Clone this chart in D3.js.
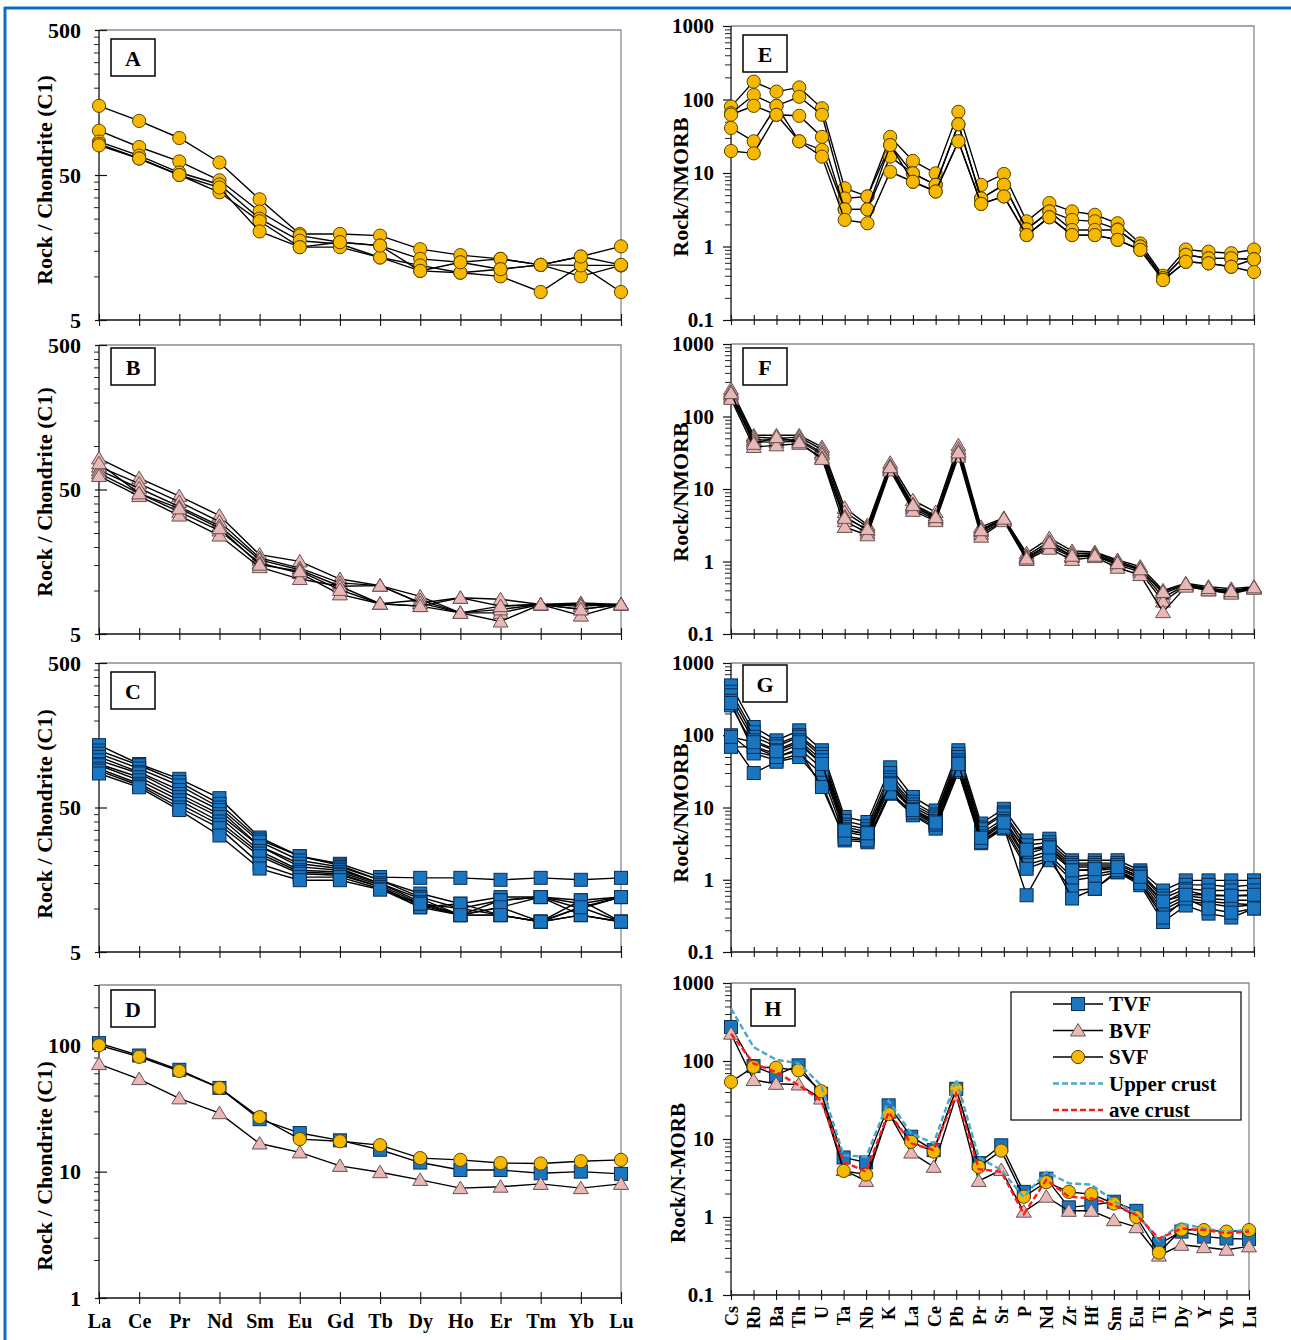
<!DOCTYPE html>
<html><head><meta charset="utf-8">
<script src="https://cdnjs.cloudflare.com/ajax/libs/d3/7.8.5/d3.min.js"></script>
<style>body{margin:0;background:#fff}svg{display:block}</style>
</head><body><svg id="c" width="1291" height="1340"></svg>
<script>
// ---------------- DATA ----------------
const reeElements = ["La","Ce","Pr","Nd","Sm","Eu","Gd","Tb","Dy","Ho","Er","Tm","Yb","Lu"];
const spiderElements = ["Cs","Rb","Ba","Th","U","Ta","Nb","K","La","Ce","Pb","Pr","Sr","P","Nd","Zr","Hf","Sm","Eu","Ti","Dy","Y","Yb","Lu"];
const reeTicks = [5, 50, 500];
const reeAvgTicks = [1, 10, 100];
const spiderTicks = [0.1, 1, 10, 100, 1000];

// A: SVF chondrite-normalised
const svfREE = [
  [150,118,90,61,34,19.6,19.6,19.1,15.4,14.0,13.2,12.0,13.7,16.1],
  [101,78,62,46,28,19.1,17.2,16.3,13.2,12.5,13.2,12.0,11.9,11.9],
  [85,68,52,43,25,17.6,16.7,13.5,11.9,10.6,11.2,12.0,10.0,11.9],
  [82,65,50,38,24,15.9,15.9,13.5,10.9,10.6,10.0,7.8,11.9,7.8],
  [80,65,50,41,20.4,15.9,17.2,16.3,10.9,12.5,11.2,12.0,13.7,12.0]
];
// B: BVF
const bvfREE = [
  [82,60,45,33,17.7,15.9,12.0,10.8,9.1,7.0,7.8,8.0,8.2,8.0],
  [72,55,41,30,16.8,14.3,11.3,10.8,8.2,8.9,8.7,8.0,8.0,8.0],
  [68,51,38,28,16.3,13.9,10.7,8.1,7.8,7.0,7.0,8.0,7.4,8.0],
  [65,47,35,26,15.5,13.2,9.4,8.1,8.6,7.0,6.1,8.0,6.7,8.0],
  [62,45,33,24,14.5,12.0,10.7,10.8,8.2,7.0,7.4,8.0,7.8,8.0],
  [76,47,37,27,15.1,13.6,10.1,8.1,7.8,8.9,7.8,8.0,7.4,8.0]
];
// C: TVF
const tvfREE = [
  [135,100,79,58,31,23,20.4,16.5,16.3,16.3,15.8,16.3,15.8,16.3],
  [124,98,75,53,30,23,19.9,15.7,12.7,10.8,12.0,12.0,10.8,12.0],
  [118,93,71,50,29,21.5,19.4,15.7,12.0,10.0,11.4,12.0,10.0,12.0],
  [112,88,66,48,27,20.4,18.9,14.9,11.7,9.0,10.2,8.1,11.4,8.1],
  [106,86,62,45,27,19.4,18.4,14.9,11.1,9.0,9.0,8.1,9.0,8.1],
  [100,81,59,43,25,18.4,17.9,14.5,10.8,10.0,9.0,8.1,10.2,12.0],
  [98,77,56,40,24,17.9,17.4,14.1,10.5,9.0,11.4,12.0,9.0,8.1],
  [93,73,53,38,23,17.4,17.0,14.1,10.2,10.8,9.0,8.1,9.0,8.1],
  [90,71,50,36,20.4,16.5,16.5,13.7,10.2,9.0,10.2,12.0,11.4,12.0],
  [86,69,48,32,18.9,15.7,15.7,13.5,10.8,9.0,9.0,8.1,10.2,8.1]
];
// D: averages
const tvfREEavg = [104,83,64,46,26,20.2,17.7,14.9,11.8,10.3,10.3,9.7,10.0,9.6];
const bvfREEavg = [71,54,38,29,16.7,14.2,11.1,9.9,8.6,7.4,7.6,8.0,7.4,8.0];
const svfREEavg = [100,81,62.6,46,27,18.1,17.4,16.2,12.8,12.4,11.7,11.6,12.1,12.4];

// E: SVF N-MORB normalised
const svfSpider = [
  [80,175,128,146,76,6.2,4.8,31,14.6,9.9,68,6.9,9.7,2.2,3.9,3.0,2.7,2.07,1.10,0.40,0.91,0.85,0.81,0.91],
  [65,115,82,109,62,4.5,4.8,24,9.9,6.9,46,4.5,6.9,1.71,3.0,2.3,2.2,1.71,1.0,0.37,0.77,0.69,0.69,0.67],
  [62,82,62,60,31,3.2,3.2,16.7,9.9,6.9,46,4.5,6.9,1.71,3.0,1.68,1.68,1.68,1.0,0.37,0.77,0.69,0.69,0.67],
  [41,27,82,27,20.6,3.2,3.2,24,7.6,5.6,27,3.8,4.8,1.43,2.5,1.43,1.43,1.23,0.90,0.35,0.62,0.59,0.53,0.45],
  [19.9,18.5,62,27,16.7,2.3,2.07,10.4,7.6,5.6,27,3.8,4.8,1.43,2.5,1.43,1.43,1.23,0.90,0.35,0.62,0.59,0.53,0.67]
];
// F: BVF
const bvfSpider = [
  [240,55,55,55,38,5.5,3.2,23,7.0,4.8,40,3.0,4.0,1.3,2.1,1.4,1.35,1.05,0.85,0.40,0.50,0.45,0.42,0.45],
  [220,52,50,52,35,4.8,3.0,21,6.2,4.3,36,2.8,3.9,1.2,1.9,1.3,1.3,1.0,0.80,0.36,0.48,0.42,0.40,0.44],
  [200,48,47,48,32,4.2,2.7,20,5.7,4.0,33,2.6,3.8,1.15,1.7,1.2,1.25,0.95,0.76,0.32,0.47,0.41,0.38,0.43],
  [185,45,44,46,30,3.6,2.5,19,5.4,3.8,30,2.4,3.7,1.1,1.6,1.15,1.2,0.90,0.72,0.28,0.46,0.40,0.37,0.43],
  [175,38,40,42,27,3.0,2.3,18,5.0,3.6,28,2.2,3.6,1.05,1.5,1.05,1.15,0.82,0.65,0.20,0.45,0.40,0.36,0.42],
  [210,42,52,44,26,4.0,2.8,20,6.0,4.1,32,2.7,3.9,1.1,1.8,1.2,1.2,0.95,0.78,0.38,0.49,0.43,0.39,0.44]
];
// G: TVF
const tvfSpider = [
  [490,130,85,117,62,7.4,6.3,36,14,9.1,62,6.0,9.6,3.5,3.7,1.86,1.86,1.86,1.35,0.71,0.98,0.98,0.98,0.98],
  [400,110,75,100,55,6.5,5.5,30,12,8.0,55,5.3,8.5,3.0,3.3,1.7,1.7,1.7,1.25,0.6,0.85,0.85,0.8,0.85],
  [357,95,70,95,50,5.8,5.0,26,11,7.5,50,5.0,8.0,2.6,3.0,1.6,1.6,1.6,1.2,0.55,0.75,0.71,0.71,0.71],
  [300,85,62,85,45,5.4,4.6,24,10.2,7.0,45,4.4,7.0,2.3,2.8,1.5,1.5,1.5,1.1,0.47,0.71,0.6,0.6,0.6],
  [259,70,55,75,40,5.0,4.2,22,9.5,6.5,42,4.0,6.5,2.0,2.5,1.35,1.35,1.42,1.04,0.42,0.6,0.55,0.52,0.52],
  [280,60,50,65,35,4.6,4.0,19.2,9.0,6.0,38,3.6,6.0,1.86,2.2,1.09,1.2,1.35,0.95,0.38,0.55,0.5,0.47,0.45],
  [100,56,45,55,29,4.0,3.6,17,8.0,5.5,35,3.4,5.5,1.6,2.0,0.98,1.09,1.27,0.9,0.34,0.5,0.47,0.42,0.45],
  [85,30,43,50,22,3.5,3.3,15.5,7.8,5.1,31,3.2,5.1,1.42,1.86,0.71,0.75,1.27,0.84,0.26,0.44,0.34,0.30,0.40],
  [69,69,50,62,19.2,3.7,3.5,16,8.5,5.8,33,3.3,5.3,0.61,2.2,0.55,0.75,1.35,0.9,0.3,0.55,0.4,0.35,0.4],
  [95,80,60,80,40,4.8,4.4,21,9.2,6.2,40,3.8,6.2,2.6,2.8,1.35,1.4,1.5,1.1,0.5,0.62,0.62,0.6,0.62]
];
// H: averages and crust references
const tvfSpiderAvg = [273,86,66,88,38,5.8,5.0,27,10.7,7.2,44,4.9,8.3,2.1,3.1,1.33,1.42,1.57,1.20,0.45,0.65,0.56,0.53,0.52];
const bvfSpiderAvg = [224,57,51,50,33,4.0,2.9,21.6,6.7,4.4,36,2.9,4.0,1.17,1.82,1.20,1.20,0.91,0.74,0.32,0.44,0.41,0.38,0.42];
const svfSpiderAvg = [54,84,82,76,41,3.9,3.5,20.8,9.2,6.9,44,4.4,7.1,1.82,2.8,2.1,1.96,1.49,1.0,0.35,0.69,0.68,0.65,0.68];
const upperCrust = [469,151,104,93,49,6.2,5.9,31,11.8,8.8,58,5.8,4.0,1.8,3.8,2.7,2.6,1.6,1.1,0.5,0.83,0.71,0.65,0.68];
const aveCrust = [224,93,72,49,31,5.1,3.8,22,8.8,7.2,38,4.1,3.8,1.09,3.0,1.82,1.73,1.42,1.06,0.53,0.71,0.68,0.62,0.65];
const legendNames = ["TVF","BVF","SVF","Upper crust","ave crust"];

// ---------------- STYLE / LAYOUT ----------------
const FONT = "'Liberation Serif','Times New Roman',serif";
const MK = {
  circle:{fill:"#F7B900",stroke:"#5a4400"},
  square:{fill:"#1B76C2",stroke:"#0b2d52"},
  triangle:{fill:"#E7B8B6",stroke:"#6a5252"}
};
const svg = d3.select("#c");
svg.append("rect").attr("width",1291).attr("height",1340).attr("fill","#fff");
svg.append("line").attr("x1",4).attr("x2",1291).attr("y1",8).attr("y2",8).attr("stroke","#0a6fc2").attr("stroke-width",3);
svg.append("line").attr("x1",5).attr("x2",5).attr("y1",7).attr("y2",1340).attr("stroke","#0a6fc2").attr("stroke-width",3);

function marker(g, kind, cx, cy){
  const s = MK[kind];
  let m;
  if(kind==="circle") m = g.append("circle").attr("cx",cx).attr("cy",cy).attr("r",6.6);
  else if(kind==="square") m = g.append("rect").attr("x",cx-6.5).attr("y",cy-6.5).attr("width",13).attr("height",13);
  else m = g.append("path").attr("d",`M${cx},${cy-7}L${cx+7.5},${cy+5.5}L${cx-7.5},${cy+5.5}Z`);
  m.attr("fill",s.fill).attr("stroke",s.stroke).attr("stroke-width",1);
}

const panels = [
  {id:"A",cats:reeElements,x0:99,x1:621,yTop:30,yBot:320,dom:[5,500],majors:reeTicks,side:"L",
   series:[{data:svfREE,mk:"circle"}],box:[111,39],yl:"Rock / Chondrite (C1)",ylx:44,yly:180},
  {id:"B",cats:reeElements,x0:99,x1:621,yTop:345,yBot:634,dom:[5,500],majors:reeTicks,side:"L",
   series:[{data:bvfREE,mk:"triangle"}],box:[111,348],yl:"Rock / Chondrite (C1)",ylx:44,yly:492},
  {id:"C",cats:reeElements,x0:99,x1:621,yTop:663,yBot:952,dom:[5,500],majors:reeTicks,side:"L",
   series:[{data:tvfREE,mk:"square"}],box:[111,672],yl:"Rock / Chondrite (C1)",ylx:44,yly:814},
  {id:"D",cats:reeElements,x0:99,x1:621,yTop:985,yBot:1298,dom:[1,300],majors:reeAvgTicks,side:"L",
   series:[{data:[tvfREEavg],mk:"square"},{data:[bvfREEavg],mk:"triangle"},{data:[svfREEavg],mk:"circle"}],
   box:[111,990],yl:"Rock / Chondrite (C1)",ylx:44,yly:1166,xlab:"h"},
  {id:"E",cats:spiderElements,x0:731,x1:1254,yTop:26,yBot:320,dom:[0.1,1000],majors:spiderTicks,side:"R",
   series:[{data:svfSpider,mk:"circle"}],box:[743,35],yl:"Rock/NMORB",ylx:680,yly:187},
  {id:"F",cats:spiderElements,x0:731,x1:1254,yTop:344,yBot:634,dom:[0.1,1000],majors:spiderTicks,side:"R",
   series:[{data:bvfSpider,mk:"triangle"}],box:[743,348],yl:"Rock/NMORB",ylx:680,yly:492},
  {id:"G",cats:spiderElements,x0:731,x1:1254,yTop:663,yBot:952,dom:[0.1,1000],majors:spiderTicks,side:"R",
   series:[{data:tvfSpider,mk:"square"}],box:[743,665],yl:"Rock/NMORB",ylx:680,yly:813},
  {id:"H",cats:spiderElements,x0:731,x1:1249,yTop:983,yBot:1295,dom:[0.1,1000],majors:spiderTicks,side:"R",
   series:[{data:[tvfSpiderAvg],mk:"square"},{data:[bvfSpiderAvg],mk:"triangle"},{data:[svfSpiderAvg],mk:"circle"}],
   dashed:[{data:upperCrust,color:"#4AA8C8"},{data:aveCrust,color:"#FF1A1A"}],
   box:[751,989],yl:"Rock/N-MORB",ylx:678,yly:1173,xlab:"v",legend:true}
];

function drawPanel(p){
  const x = d3.scalePoint().domain(p.cats).range([p.x0,p.x1]).padding(0);
  const y = d3.scaleLog().domain(p.dom).range([p.yBot,p.yTop]);
  const g = svg.append("g");
  g.append("path").attr("d",`M${p.x0},${p.yTop}H${p.x1}V${p.yBot}`).attr("fill","none").attr("stroke","#8a8a8a").attr("stroke-width",1.3);

  const minors = [];
  for(let i=0;i<p.majors.length-1;i++) for(let k=2;k<=9;k++){const v=p.majors[i]*k; if(v<p.dom[1]) minors.push(v);}
  if(p.dom[1] > p.majors[p.majors.length-1]) { const m=p.majors[p.majors.length-1]; for(let k=2;k<=9;k++){ if(m*k<=p.dom[1]) minors.push(m*k);} }
  const minAx = g.append("g").attr("transform",`translate(${p.x0},0)`)
     .call(d3.axisLeft(y).tickValues(minors).tickSize(p.side==="L"?5:6).tickFormat(""));
  minAx.select(".domain").remove();
  minAx.selectAll(".tick line").attr("stroke","#222").attr("stroke-width",1);

  const majAx = g.append("g").attr("transform",`translate(${p.x0},0)`)
     .call(d3.axisLeft(y).tickValues(p.majors).tickSize(p.side==="L"?4:8).tickPadding(p.side==="L"?14:9)
       .tickFormat(d=>String(d)));
  majAx.select(".domain").attr("stroke","#111").attr("stroke-width",1.3).attr("d",`M0,${p.yBot}V${p.yTop}`);
  majAx.selectAll(".tick line").attr("stroke","#111").attr("stroke-width",1.2);
  if(p.side==="L") majAx.selectAll(".tick line").attr("x1",8);
  majAx.selectAll("text").attr("font-family",FONT).attr("font-weight","bold")
     .attr("font-size",p.side==="L"?22:21).attr("fill","#000");

  const xAx = g.append("g").attr("transform",`translate(0,${p.yBot})`)
     .call(d3.axisBottom(x).tickSize(p.side==="L"?6:5).tickFormat(p.xlab?(d=>d):""));
  xAx.select(".domain").attr("stroke","#111").attr("stroke-width",1.3).attr("d",`M${p.x0},0H${p.x1}`);
  xAx.selectAll(".tick line").attr("stroke","#111").attr("stroke-width",1.1).attr("y1",p.side==="L"?-6:-5);
  if(p.xlab==="h"){
    xAx.selectAll("text").attr("font-family",FONT).attr("font-weight","bold").attr("font-size",20)
      .attr("fill","#000").attr("y",16).attr("dy","0.71em");
  } else if(p.xlab==="v"){
    xAx.selectAll("text").attr("font-family",FONT).attr("font-weight","bold").attr("font-size",18)
      .attr("fill","#000").attr("transform","rotate(-90)").attr("text-anchor","end")
      .attr("x",-11).attr("y",0).attr("dy","0.35em");
  }

  g.append("text").attr("transform",`translate(${p.ylx},${p.yly}) rotate(-90)`)
    .attr("text-anchor","middle").attr("dy","0.35em").attr("font-family",FONT).attr("font-weight","bold")
    .attr("font-size",p.id==="H"?21:22).text(p.yl);

  const line = d3.line().x((d,i)=>x(p.cats[i])).y(d=>y(d));
  p.series.forEach(s=>{
    s.data.forEach(row=>{
      g.append("path").attr("d",line(row)).attr("fill","none").attr("stroke","#000").attr("stroke-width",1.4);
      row.forEach((v,i)=>marker(g,s.mk,x(p.cats[i]),y(v)));
    });
  });
  if(p.dashed){
    p.dashed.forEach(dl=>{
      g.append("path").attr("d",line(dl.data)).attr("fill","none").attr("stroke",dl.color)
        .attr("stroke-width",2.4).attr("stroke-dasharray","6,3");
    });
  }

  g.append("rect").attr("x",p.box[0]).attr("y",p.box[1]).attr("width",44).attr("height",37)
    .attr("fill","#fff").attr("stroke","#000").attr("stroke-width",1.5);
  g.append("text").attr("x",p.box[0]+22).attr("y",p.box[1]+19).attr("dy","0.35em").attr("text-anchor","middle")
    .attr("font-family",FONT).attr("font-weight","bold").attr("font-size",22).text(p.id);

  if(p.legend){
    const lg = g.append("g");
    lg.append("rect").attr("x",1011).attr("y",992).attr("width",230).attr("height",128)
      .attr("fill","#fff").attr("stroke","#000").attr("stroke-width",1.2);
    const rows = [{mk:"square"},{mk:"triangle"},{mk:"circle"},{dash:"#4AA8C8"},{dash:"#FF1A1A"}];
    rows.forEach((r,i)=>{
      const yy = 1004 + i*26.5;
      if(r.mk){
        lg.append("line").attr("x1",1053).attr("x2",1103).attr("y1",yy).attr("y2",yy).attr("stroke","#000").attr("stroke-width",1.6);
        marker(lg,r.mk,1078,yy);
      } else {
        lg.append("line").attr("x1",1053).attr("x2",1103).attr("y1",yy).attr("y2",yy).attr("stroke",r.dash)
          .attr("stroke-width",2.4).attr("stroke-dasharray","6,3");
      }
      lg.append("text").attr("x",1109).attr("y",yy).attr("dy","0.35em").attr("font-family",FONT)
        .attr("font-size",21).attr("font-weight","bold").attr("fill","#000").text(legendNames[i]);
    });
  }
}
panels.forEach(drawPanel);
</script></body></html>
